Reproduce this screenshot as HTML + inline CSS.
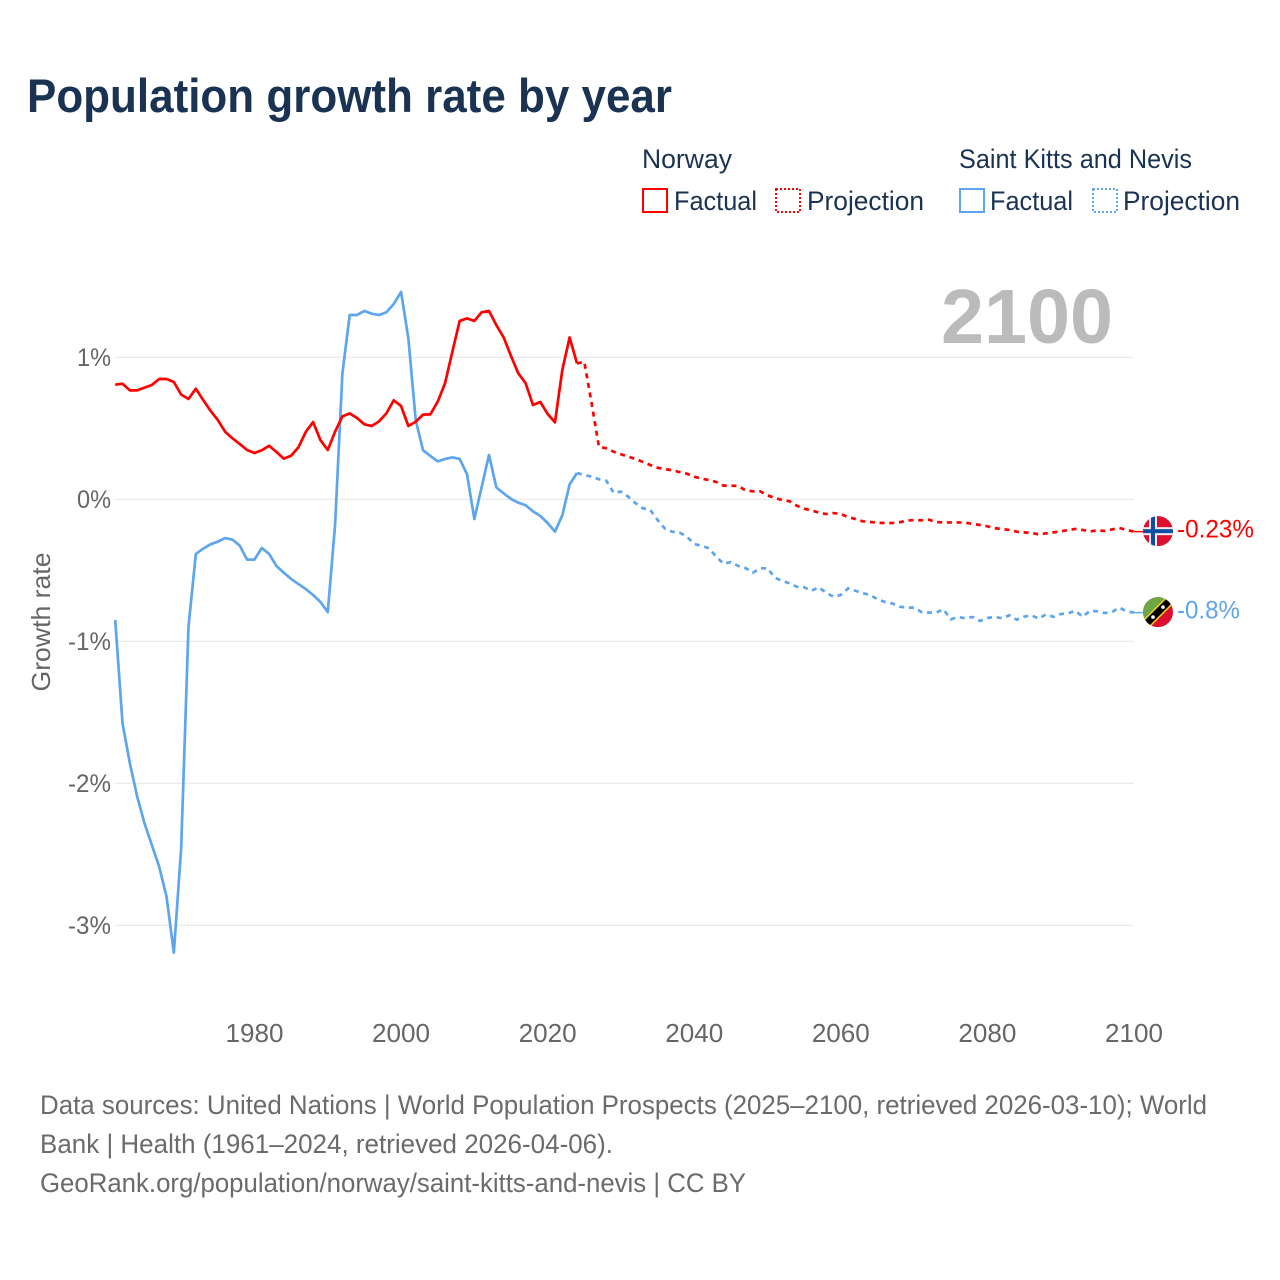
<!DOCTYPE html>
<html lang="en">
<head>
<meta charset="utf-8">
<title>Population growth rate by year</title>
<style>
html,body{margin:0;padding:0;background:#fff;}
svg{display:block;}
text{font-family:"Liberation Sans",sans-serif;}
</style>
</head>
<body>
<svg id="chart" xmlns="http://www.w3.org/2000/svg" width="1280" height="1280" viewBox="0 0 1280 1280">
  <rect x="0" y="0" width="1280" height="1280" fill="#ffffff"/>
  <text x="27" y="112" font-size="47" font-weight="700" fill="#1a3353" textLength="645" lengthAdjust="spacingAndGlyphs">Population growth rate by year</text>

  <g fill="#1a3353" font-size="27">
    <text x="642" y="168" textLength="90" lengthAdjust="spacingAndGlyphs">Norway</text>
    <text x="959" y="168" textLength="233" lengthAdjust="spacingAndGlyphs">Saint Kitts and Nevis</text>
    <rect x="643" y="189" width="24" height="23" fill="none" stroke="#ff0000" stroke-width="2"/>
    <text x="674" y="210" textLength="83" lengthAdjust="spacingAndGlyphs">Factual</text>
    <rect x="776" y="189" width="24" height="23" fill="none" stroke="#ff0000" stroke-width="2" stroke-dasharray="2 2"/>
    <text x="807" y="210" textLength="117" lengthAdjust="spacingAndGlyphs">Projection</text>
    <rect x="960" y="189" width="24" height="23" fill="none" stroke="#5da5ec" stroke-width="2"/>
    <text x="990" y="210" textLength="83" lengthAdjust="spacingAndGlyphs">Factual</text>
    <rect x="1093" y="189" width="24" height="23" fill="none" stroke="#5da5ec" stroke-width="2" stroke-dasharray="2 2"/>
    <text x="1123" y="210" textLength="117" lengthAdjust="spacingAndGlyphs">Projection</text>
  </g>

  <g id="grid"></g>
  <text x="941" y="343" font-size="77" font-weight="700" fill="#bbbbbb" textLength="172" lengthAdjust="spacingAndGlyphs">2100</text>
  <g id="y-axis"></g>
  <g id="x-axis"></g>
  <text transform="translate(50,622) rotate(-90)" text-anchor="middle" font-size="26" fill="#666666" textLength="139" lengthAdjust="spacingAndGlyphs">Growth rate</text>

  <g id="series"></g>

  <defs>
    <clipPath id="flag-clip"><circle cx="0" cy="0" r="15"/></clipPath>
  </defs>

  <g id="flag-norway" clip-path="none">
    <g clip-path="url(#flag-clip)">
      <rect x="-16" y="-16" width="32" height="32" fill="#dc0f2e"/>
      <rect x="-9" y="-16" width="8" height="32" fill="#f3eeee"/>
      <rect x="-16" y="-4" width="32" height="8" fill="#f3eeee"/>
      <rect x="-7" y="-16" width="4" height="32" fill="#0b4ea2"/>
      <rect x="-16" y="-2" width="32" height="4" fill="#0b4ea2"/>
    </g>
  </g>
  <g id="flag-skn">
    <g clip-path="url(#flag-clip)">
      <rect x="-16" y="-16" width="32" height="32" fill="#dc0f2e"/>
      <polygon points="-16,-16 16,-16 -16,16" fill="#6fa644"/>
      <line x1="-17" y1="17" x2="17" y2="-17" stroke="#f7d21c" stroke-width="10"/>
      <line x1="-17" y1="17" x2="17" y2="-17" stroke="#000000" stroke-width="7"/>
      <circle cx="-5" cy="5" r="1.8" fill="#ffffff"/>
      <circle cx="5" cy="-5" r="1.8" fill="#ffffff"/>
    </g>
  </g>
  <g id="end-labels"></g>

  <g fill="#6b6b6b" font-size="27">
    <text x="40" y="1114" textLength="1167" lengthAdjust="spacingAndGlyphs">Data sources: United Nations | World Population Prospects (2025–2100, retrieved 2026-03-10); World</text>
    <text x="40" y="1153" textLength="573" lengthAdjust="spacingAndGlyphs">Bank | Health (1961–2024, retrieved 2026-04-06).</text>
    <text x="40" y="1192" textLength="706" lengthAdjust="spacingAndGlyphs">GeoRank.org/population/norway/saint-kitts-and-nevis | CC BY</text>
  </g>
</svg>

<script>
var firstFactualYear = 1961;
var firstProjectionYear = 2024;
var xTickLabels = ['1980','2000','2020','2040','2060','2080','2100'];
var yTickValues = [1,0,-1,-2,-3];
var yTickLabels = ['1%','0%','-1%','-2%','-3%'];
var endLabels = ['-0.23%','-0.8%'];

var norwayFactual = [0.805,0.812,0.765,0.765,0.784,0.803,0.845,0.845,0.824,0.735,0.704,0.777,0.697,0.622,0.556,0.474,0.427,0.387,0.345,0.324,0.343,0.375,0.331,0.284,0.305,0.364,0.472,0.542,0.415,0.345,0.474,0.582,0.603,0.570,0.526,0.514,0.547,0.603,0.695,0.655,0.514,0.544,0.594,0.596,0.685,0.815,1.037,1.254,1.272,1.254,1.315,1.324,1.225,1.138,1.007,0.885,0.815,0.662,0.683,0.599,0.540,0.908,1.138,0.955];

var norwayProjection = [0.955,0.967,0.674,0.368,0.357,0.333,0.315,0.298,0.282,0.261,0.239,0.22,0.211,0.202,0.19,0.178,0.157,0.143,0.134,0.12,0.094,0.094,0.092,0.061,0.054,0.054,0.026,0.007,-0.007,-0.016,-0.047,-0.068,-0.08,-0.096,-0.106,-0.099,-0.106,-0.127,-0.141,-0.157,-0.162,-0.167,-0.169,-0.169,-0.164,-0.153,-0.148,-0.15,-0.146,-0.162,-0.165,-0.165,-0.165,-0.167,-0.176,-0.183,-0.192,-0.206,-0.211,-0.218,-0.23,-0.235,-0.239,-0.249,-0.242,-0.235,-0.228,-0.218,-0.211,-0.218,-0.228,-0.221,-0.225,-0.214,-0.204,-0.218,-0.23];

var sknFactual = [-0.852,-1.58,-1.861,-2.096,-2.284,-2.437,-2.589,-2.8,-3.195,-2.46,-0.899,-0.387,-0.35,-0.319,-0.30,-0.275,-0.286,-0.329,-0.427,-0.427,-0.345,-0.387,-0.472,-0.519,-0.563,-0.599,-0.634,-0.676,-0.725,-0.796,-0.183,0.885,1.296,1.296,1.324,1.305,1.296,1.315,1.373,1.458,1.131,0.556,0.343,0.303,0.265,0.282,0.293,0.282,0.174,-0.141,0.085,0.31,0.082,0.04,0,-0.026,-0.044,-0.087,-0.12,-0.169,-0.23,-0.115,0.103,0.183];

var sknProjection = [0.183,0.169,0.157,0.139,0.129,0.044,0.052,0.016,-0.03,-0.066,-0.077,-0.148,-0.209,-0.23,-0.237,-0.265,-0.317,-0.329,-0.347,-0.406,-0.456,-0.444,-0.472,-0.486,-0.519,-0.488,-0.488,-0.554,-0.577,-0.594,-0.618,-0.622,-0.646,-0.622,-0.66,-0.688,-0.676,-0.629,-0.646,-0.664,-0.676,-0.706,-0.725,-0.735,-0.758,-0.765,-0.765,-0.796,-0.8,-0.8,-0.777,-0.847,-0.831,-0.84,-0.831,-0.859,-0.838,-0.831,-0.84,-0.819,-0.85,-0.829,-0.819,-0.843,-0.812,-0.83,-0.81,-0.805,-0.787,-0.829,-0.787,-0.791,-0.803,-0.796,-0.765,-0.791,-0.8];

var SVGNS = 'http://www.w3.org/2000/svg';
var RED = '#ff0000';
var BLUE = '#5da5ec';

function xScale(year){ return 115.2 + (year - 1961) * (1134 - 115.2) / 139; }
function yScale(v){ return 499 - v * 142; }

function linePath(values, startYear){
  var d = '';
  for (var i = 0; i < values.length; i++){
    d += (i ? 'L' : 'M') + xScale(startYear + i).toFixed(2) + ' ' + yScale(values[i]).toFixed(2);
  }
  return d;
}

function make(tag, attrs, parent){
  var el = document.createElementNS(SVGNS, tag);
  for (var k in attrs){ el.setAttribute(k, attrs[k]); }
  parent.appendChild(el);
  return el;
}

var gridGroup = document.getElementById('grid');
var yAxisGroup = document.getElementById('y-axis');
yTickValues.forEach(function(v, i){
  var line = make('line', {x1: xScale(1961), x2: xScale(2100), y1: yScale(v) + 0.3, y2: yScale(v) + 0.3, stroke: '#e8e8e8', 'stroke-width': 1.2}, gridGroup);
  
  
  var label = yTickLabels[i];
  var t = make('text', {x: 111, y: yScale(v) + 9, 'text-anchor': 'end', 'font-size': 25, fill: '#666666', textLength: 34 + 9 * (label.length - 2), lengthAdjust: 'spacingAndGlyphs'}, yAxisGroup);
  
  
  t.textContent = label;
});

var xAxisGroup = document.getElementById('x-axis');
xTickLabels.forEach(function(label){
  var t = make('text', {x: xScale(Number(label)), y: 1042, 'text-anchor': 'middle', 'font-size': 26, fill: '#666666', textLength: 58, lengthAdjust: 'spacingAndGlyphs'}, xAxisGroup);
  
  
  t.textContent = label;
});

var seriesGroup = document.getElementById('series');

var sknFactualLine = make('path', {d: linePath(sknFactual, firstFactualYear), fill: 'none', stroke: BLUE, 'stroke-width': 2.7, 'stroke-linejoin': 'round'}, seriesGroup);



var sknProjectionLine = make('path', {d: linePath(sknProjection, firstProjectionYear), fill: 'none', stroke: BLUE, 'stroke-width': 2.7, 'stroke-dasharray': '5 4.7'}, seriesGroup);



var norwayFactualLine = make('path', {d: linePath(norwayFactual, firstFactualYear), fill: 'none', stroke: RED, 'stroke-width': 2.7, 'stroke-linejoin': 'round'}, seriesGroup);



var norwayProjectionLine = make('path', {d: linePath(norwayProjection, firstProjectionYear), fill: 'none', stroke: RED, 'stroke-width': 2.7, 'stroke-dasharray': '5 4.7'}, seriesGroup);



var norwayEndY = yScale(norwayProjection[norwayProjection.length - 1]);
var sknEndY = yScale(sknProjection[sknProjection.length - 1]);

var norwayConnector = make('line', {x1: xScale(2100), x2: 1144, y1: norwayEndY, y2: norwayEndY, stroke: RED, 'stroke-width': 1.5}, seriesGroup);



var sknConnector = make('line', {x1: xScale(2100), x2: 1144, y1: sknEndY, y2: sknEndY, stroke: BLUE, 'stroke-width': 1.5}, seriesGroup);



document.getElementById('flag-norway').setAttribute('transform', 'translate(1158,' + (norwayEndY - 0.5) + ')');
document.getElementById('flag-skn').setAttribute('transform', 'translate(1158,' + (sknEndY - 0.5) + ')');

var endGroup = document.getElementById('end-labels');

var norwayEndLabel = make('text', {x: 1177, y: norwayEndY + 6, 'font-size': 25, fill: RED, textLength: 77, lengthAdjust: 'spacingAndGlyphs'}, endGroup);


norwayEndLabel.textContent = endLabels[0];

var sknEndLabel = make('text', {x: 1177, y: sknEndY + 6, 'font-size': 25, fill: BLUE, textLength: 63, lengthAdjust: 'spacingAndGlyphs'}, endGroup);


sknEndLabel.textContent = endLabels[1];
</script>
</body>
</html>
